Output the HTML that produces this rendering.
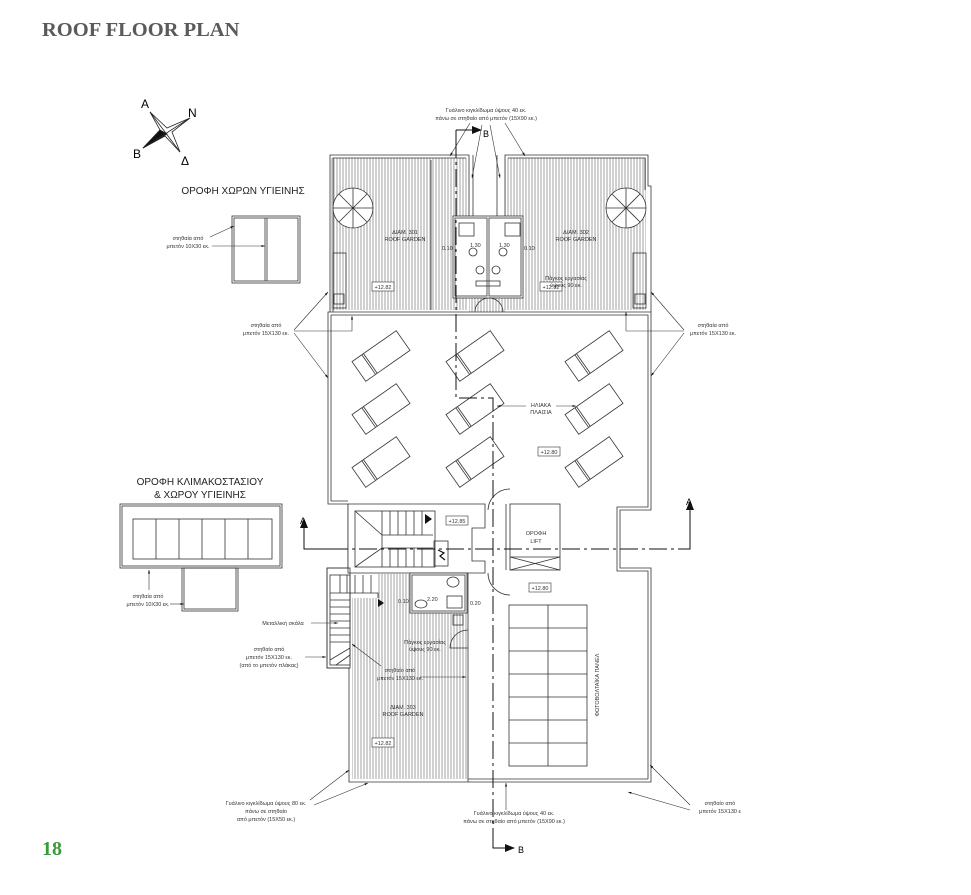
<!DOCTYPE html>
<html><head><meta charset="utf-8"><style>
html,body{margin:0;padding:0;background:#fff}
svg{display:block}
text{font-family:"Liberation Sans",sans-serif}
.s{font-size:5.5px;fill:#333}
.m{font-size:6.5px;fill:#333}
</style></head><body>
<svg width="971" height="895" viewBox="0 0 971 895" xmlns="http://www.w3.org/2000/svg">
<defs>
<pattern id="h" width="3" height="10" patternUnits="userSpaceOnUse"><line x1="1" y1="0" x2="1" y2="10" stroke="#888" stroke-width="0.8"/></pattern>
<marker id="ar" viewBox="0 0 10 10" refX="10" refY="5" markerWidth="6" markerHeight="6" orient="auto"><path d="M0,2 L10,5 L0,8z" fill="#111"/></marker>
<g id="bed"><rect x="-27" y="-12" width="54" height="24" fill="#fff" stroke="#333" stroke-width="0.8"/><line x1="-15" y1="-12" x2="-15" y2="12" stroke="#333" stroke-width="0.8"/><line x1="-13" y1="-12" x2="-13" y2="12" stroke="#333" stroke-width="0.8"/></g>
</defs>
<text x="42" y="36" style="font-family:'Liberation Serif',serif;font-weight:bold;font-size:20.5px;fill:#5a5a5a">ROOF FLOOR PLAN</text>
<text x="42" y="855" style="font-family:'Liberation Serif',serif;font-weight:bold;font-size:20px;fill:#3a9a3a">18</text>

<!-- compass -->
<g stroke="#222" stroke-width="0.8" fill="#fff">
<path d="M150,112 L167,128 L190,118 L172,132 L180,152 L165,136 L143,148 L160,130 Z"/>
<path d="M143,148 L160,130 L167,134 Z" fill="#111"/>
<line x1="150" y1="112" x2="180" y2="152"/><line x1="143" y1="148" x2="190" y2="118"/>
</g>
<text x="141" y="108" style="font-size:12px">A</text><text x="188" y="117" style="font-size:12px">N</text>
<text x="133" y="158" style="font-size:12px">B</text><text x="181" y="165" style="font-size:12px">Δ</text>

<!-- small WC roof -->
<text x="243" y="194" text-anchor="middle" style="font-size:10px;fill:#222">ΟΡΟΦΗ ΧΩΡΩΝ ΥΓΙΕΙΝΗΣ</text>
<g fill="none" stroke="#333" stroke-width="0.8">
<rect x="232" y="216" width="68" height="67"/><rect x="234" y="218" width="64" height="63"/>
<line x1="265" y1="218" x2="265" y2="281"/><line x1="267" y1="218" x2="267" y2="281"/>
</g>
<text x="188" y="240" text-anchor="middle" class="s">στηθαία από</text>
<text x="188" y="248" text-anchor="middle" class="s">μπετόν 10Χ30 εκ.</text>
<line x1="212" y1="246" x2="265" y2="246" stroke="#333" stroke-width="0.6" marker-end="url(#ar)"/>
<line x1="210" y1="237" x2="234" y2="226" stroke="#333" stroke-width="0.6" marker-end="url(#ar)"/>

<!-- stair roof -->
<text x="200" y="485" text-anchor="middle" style="font-size:10px;fill:#222">ΟΡΟΦΗ ΚΛΙΜΑΚΟΣΤΑΣΙΟΥ</text>
<text x="200" y="498" text-anchor="middle" style="font-size:10px;fill:#222">&amp; ΧΩΡΟΥ ΥΓΙΕΙΝΗΣ</text>
<g fill="none" stroke="#333" stroke-width="0.8">
<rect x="120" y="504" width="162" height="64"/><rect x="122" y="506" width="158" height="60"/>
<rect x="133" y="519" width="139" height="40"/>
<line x1="156" y1="519" x2="156" y2="559"/><line x1="179" y1="519" x2="179" y2="559"/><line x1="202" y1="519" x2="202" y2="559"/><line x1="225" y1="519" x2="225" y2="559"/><line x1="248" y1="519" x2="248" y2="559"/>
<rect x="182" y="568" width="56" height="43"/><rect x="184" y="568" width="52" height="41"/>
</g>
<text x="148" y="598" text-anchor="middle" class="s">στηθαία από</text>
<text x="148" y="606" text-anchor="middle" class="s">μπετόν 10Χ30 εκ.</text>
<line x1="149" y1="590" x2="149" y2="570" stroke="#333" stroke-width="0.6" marker-end="url(#ar)"/>
<line x1="170" y1="604" x2="184" y2="604" stroke="#333" stroke-width="0.6" marker-end="url(#ar)"/>

<!-- top gardens -->
<rect x="331" y="158" width="137" height="152" fill="url(#h)"/>
<rect x="505" y="158" width="141" height="152" fill="url(#h)"/>
<rect x="469" y="298" width="36" height="14" fill="url(#h)"/>
<g fill="none" stroke="#333" stroke-width="0.8">
<path d="M330,312 V155 H469 V216"/><path d="M333,312 V158 H466"/>
<path d="M505,216 V155 H648 V186 H651 V312"/><path d="M508,158 H645 V190"/>
<line x1="473" y1="155" x2="473" y2="216"/><line x1="497" y1="155" x2="497" y2="216"/>
<rect x="453" y="216" width="70" height="82" fill="#fff"/>
<rect x="455" y="218" width="32" height="78"/><rect x="489" y="218" width="32" height="78"/>
<rect x="459" y="223" width="15" height="13"/><rect x="505" y="223" width="15" height="13"/>
<circle cx="473" cy="252" r="4"/><circle cx="503" cy="252" r="4"/><circle cx="480" cy="270" r="4"/><circle cx="496" cy="270" r="4"/>
<rect x="476" y="281" width="24" height="5"/>
<path d="M475,312 A14,14 0 0 1 503,312"/>
<circle cx="353" cy="208" r="20" fill="#fff"/><circle cx="626" cy="208" r="20" fill="#fff"/>
<path d="M353,188 V228 M333,208 H373 M339,194 L367,222 M367,194 L339,222"/>
<path d="M626,188 V228 M606,208 H646 M612,194 L640,222 M640,194 L612,222"/>
<rect x="333" y="253" width="13" height="55"/><rect x="334" y="294" width="10" height="10"/>
<rect x="633" y="253" width="13" height="55"/><rect x="635" y="294" width="10" height="10"/>
<line x1="431" y1="160" x2="431" y2="310"/>
</g>
<text x="405" y="234" text-anchor="middle" class="s">ΔΙΑΜ. 301</text><text x="405" y="241" text-anchor="middle" class="s">ROOF GARDEN</text>
<text x="576" y="234" text-anchor="middle" class="s">ΔΙΑΜ. 302</text><text x="576" y="241" text-anchor="middle" class="s">ROOF GARDEN</text>
<rect x="372" y="282" width="22" height="9" fill="#fff" stroke="#333" stroke-width="0.6"/><text x="383" y="289" text-anchor="middle" class="s">+12.82</text>
<rect x="540" y="282" width="22" height="9" fill="#fff" stroke="#333" stroke-width="0.6"/><text x="551" y="289" text-anchor="middle" class="s">+12.82</text>
<text x="566" y="280" text-anchor="middle" class="s">Πάγκος εργασίας</text><text x="566" y="287" text-anchor="middle" class="s">ύψους 90 εκ.</text>
<text x="470" y="247" class="s">1.30</text><text x="499" y="247" class="s">1.30</text>
<text x="442" y="250" class="s">0.10</text><text x="524" y="250" class="s">0.10</text>
<text x="486" y="112" text-anchor="middle" class="s">Γυάλινο κιγκλίδωμα ύψους 40 εκ.</text>
<text x="486" y="120" text-anchor="middle" class="s">πάνω σε στηθαίο από μπετόν (15Χ90 εκ.)</text>
<g stroke="#333" stroke-width="0.6" marker-end="url(#ar)">
<line x1="470" y1="123" x2="450" y2="156"/><line x1="505" y1="123" x2="525" y2="156"/>
<line x1="482" y1="125" x2="472" y2="178"/><line x1="490" y1="125" x2="500" y2="178"/>
</g>

<!-- terrace -->
<g fill="none" stroke="#333" stroke-width="0.8">
<path d="M328,312 H651 V510 H620 V568 H651 V782 H349 V668 H327 V568 H348 V504 H328 Z"/>
<path d="M331,315 H648 V507 H617 V571 H648 V779"/>
<path d="M331,315 V501 H348"/>
</g>
<g>
<use href="#bed" transform="translate(381,356) rotate(-35)"/>
<use href="#bed" transform="translate(381,409) rotate(-35)"/>
<use href="#bed" transform="translate(381,462) rotate(-35)"/>
<use href="#bed" transform="translate(475,356) rotate(-35)"/>
<use href="#bed" transform="translate(475,409) rotate(-35)"/>
<use href="#bed" transform="translate(475,462) rotate(-35)"/>
<use href="#bed" transform="translate(594,356) rotate(-35)"/>
<use href="#bed" transform="translate(594,409) rotate(-35)"/>
<use href="#bed" transform="translate(594,462) rotate(-35)"/>
</g>
<text x="541" y="407" text-anchor="middle" class="s">ΗΛΙΑΚΑ</text><text x="541" y="414" text-anchor="middle" class="s">ΠΛΑΙΣΙΑ</text>
<line x1="526" y1="406" x2="497" y2="406" stroke="#333" stroke-width="0.6" marker-end="url(#ar)"/>
<line x1="556" y1="406" x2="576" y2="406" stroke="#333" stroke-width="0.6" marker-end="url(#ar)"/>
<rect x="538" y="447" width="22" height="9" fill="#fff" stroke="#333" stroke-width="0.6"/><text x="549" y="454" text-anchor="middle" class="s">+12.80</text>

<!-- side annotations -->
<text x="266" y="327" text-anchor="middle" class="s">στηθαία από</text><text x="266" y="335" text-anchor="middle" class="s">μπετόν 15Χ130 εκ.</text>
<g stroke="#333" stroke-width="0.6" fill="none"><line x1="294" y1="330" x2="328" y2="292" marker-end="url(#ar)"/><line x1="294" y1="333" x2="328" y2="378" marker-end="url(#ar)"/><path d="M294,331 H352 V316" marker-end="url(#ar)"/></g>
<text x="713" y="327" text-anchor="middle" class="s">στηθαία από</text><text x="713" y="335" text-anchor="middle" class="s">μπετόν 15Χ130 εκ.</text>
<g stroke="#333" stroke-width="0.6" fill="none"><line x1="684" y1="330" x2="651" y2="292" marker-end="url(#ar)"/><line x1="684" y1="333" x2="651" y2="376" marker-end="url(#ar)"/><path d="M684,331 H626 V312" marker-end="url(#ar)"/></g>

<!-- stair core -->
<g fill="none" stroke="#333" stroke-width="0.8">
<path d="M348,504 H485 V528 H472 V561 H485 V573 H348 Z" fill="#fff"/>
<rect x="355" y="511" width="80" height="56"/>
<path d="M355,511 L382,535 V548 L355,567"/>
<path d="M382,535 H433 M382,548 H433"/>
<path d="M382,511 V535 M390,511 V535 M398,511 V535 M406,511 V535 M414,511 V535 M422,511 V535 M382,548 V567 M390,548 V567 M398,548 V567 M406,548 V567 M414,548 V567 M422,548 V567"/>
<rect x="434" y="541" width="14" height="25"/>
<rect x="510" y="504" width="50" height="66"/><line x1="506" y1="504" x2="506" y2="570"/><line x1="510" y1="557" x2="560" y2="557"/>
<path d="M510,557 L560,570 M510,570 L560,557"/>
<path d="M510,489 A22,22 0 0 0 488,510"/><path d="M510,595 A22,22 0 0 1 488,573"/>
</g>
<path d="M425,514 L432,519 L425,524 Z" fill="#111"/>
<path d="M438,550 L444,553 L440,556 L445,560" stroke="#111" stroke-width="1.2" fill="none"/>
<rect x="446" y="516" width="22" height="9" fill="#fff" stroke="#333" stroke-width="0.6"/><text x="457" y="523" text-anchor="middle" class="s">+12.85</text>
<text x="536" y="535" text-anchor="middle" class="s">ΟΡΟΦΗ</text><text x="536" y="543" text-anchor="middle" class="s">LIFT</text>

<!-- lower garden -->
<rect x="352" y="598" width="116" height="181" fill="url(#h)"/>
<rect x="378" y="574" width="32" height="24" fill="url(#h)"/>
<g fill="none" stroke="#333" stroke-width="0.8">
<path d="M468,573 V782"/>
<rect x="410" y="573" width="57" height="40" fill="#fff"/><rect x="412" y="575" width="53" height="36"/>
<ellipse cx="453" cy="582" rx="6" ry="5"/><rect x="447" y="596" width="15" height="12"/><ellipse cx="421" cy="604" rx="6" ry="4"/>
<rect x="453" y="615" width="10" height="10"/>
<path d="M468,630 A18,18 0 0 0 450,648 H468"/>
<rect x="327" y="568" width="23" height="100"/><rect x="330" y="575" width="20" height="90"/>
<path d="M330,593 H378 V598 M330,600 H350 M330,607 H350 M330,614 H350 M330,621 H350 M330,628 H350 M330,635 H350 M330,642 H350 M340,575 V593 M347,575 V593 M355,575 V593 M363,575 V593 M371,575 V593"/>
<path d="M330,660 L350,648 M336,665 L350,655"/>
<rect x="509" y="605" width="78" height="161"/>
<path d="M548,605 V766 M509,628 H587 M509,651 H587 M509,674 H587 M509,697 H587 M509,720 H587 M509,743 H587"/>
<line x1="468" y1="779" x2="648" y2="779"/>
</g>
<path d="M378,599 L384,603 L378,607 Z" fill="#111"/>
<text x="427" y="601" class="s">2.20</text><text x="398" y="603" class="s">0.10</text><text x="470" y="605" class="s">0.20</text>
<text x="425" y="644" text-anchor="middle" class="s">Πάγκος εργασίας</text><text x="425" y="651" text-anchor="middle" class="s">ύψους 90 εκ.</text>
<text x="400" y="672" text-anchor="middle" class="s">στηθαίο από</text><text x="400" y="680" text-anchor="middle" class="s">μπετόν 15Χ130 εκ.</text>
<line x1="420" y1="677" x2="466" y2="677" stroke="#333" stroke-width="0.6" marker-end="url(#ar)"/>
<line x1="381" y1="666" x2="352" y2="644" stroke="#333" stroke-width="0.6" marker-end="url(#ar)"/>
<text x="403" y="709" text-anchor="middle" class="s">ΔΙΑΜ. 303</text><text x="403" y="716" text-anchor="middle" class="s">ROOF GARDEN</text>
<rect x="372" y="738" width="22" height="9" fill="#fff" stroke="#333" stroke-width="0.6"/><text x="383" y="745" text-anchor="middle" class="s">+12.82</text>
<rect x="529" y="583" width="22" height="9" fill="#fff" stroke="#333" stroke-width="0.6"/><text x="540" y="590" text-anchor="middle" class="s">+12.80</text>
<text transform="translate(599,685) rotate(-90)" text-anchor="middle" class="s">ΦΩΤΟΒΟΛΤΑΪΚΑ ΠΑΝΕΛ</text>

<text x="283" y="625" text-anchor="middle" class="s">Μεταλλική σκάλα</text>
<line x1="311" y1="623" x2="338" y2="623" stroke="#333" stroke-width="0.6" marker-end="url(#ar)"/>
<text x="269" y="651" text-anchor="middle" class="s">στηθαίο από</text><text x="269" y="659" text-anchor="middle" class="s">μπετόν 15Χ130 εκ.</text><text x="269" y="667" text-anchor="middle" class="s">(από το μπετόν πλάκας)</text>
<line x1="305" y1="657" x2="326" y2="657" stroke="#333" stroke-width="0.6" marker-end="url(#ar)"/>
<text x="266" y="805" text-anchor="middle" class="s">Γυάλινο κιγκλίδωμα ύψους 80 εκ.</text><text x="266" y="813" text-anchor="middle" class="s">πάνω σε στηθαίο</text><text x="266" y="821" text-anchor="middle" class="s">από μπετόν (15Χ50 εκ.)</text>
<line x1="310" y1="800" x2="349" y2="770" stroke="#333" stroke-width="0.6" marker-end="url(#ar)"/>
<line x1="314" y1="805" x2="368" y2="783" stroke="#333" stroke-width="0.6" marker-end="url(#ar)"/>
<text x="514" y="815" text-anchor="middle" class="s">Γυάλινο κιγκλίδωμα ύψους 40 εκ.</text><text x="514" y="823" text-anchor="middle" class="s">πάνω σε στηθαίο από μπετόν (15Χ90 εκ.)</text>
<line x1="506" y1="810" x2="506" y2="783" stroke="#333" stroke-width="0.6" marker-end="url(#ar)"/>
<text x="720" y="805" text-anchor="middle" class="s">στηθαίο από</text><text x="720" y="813" text-anchor="middle" class="s">μπετόν 15Χ130 ε</text>
<line x1="690" y1="805" x2="650" y2="765" stroke="#333" stroke-width="0.6" marker-end="url(#ar)"/>
<line x1="690" y1="810" x2="628" y2="792" stroke="#333" stroke-width="0.6" marker-end="url(#ar)"/>

<!-- section lines -->
<g stroke="#111" stroke-width="1" fill="none">
<path d="M304,524 V549 H330"/>
<path d="M330,549 H680" stroke-dasharray="18,4,3,4"/>
<path d="M680,549 H690 V506"/>
</g>
<path d="M304,518 L300,528 L308,528 Z" fill="#111"/><path d="M690,500 L686,510 L694,510 Z" fill="#111"/>
<text x="300" y="524" style="font-size:9px">A</text><text x="686" y="505" style="font-size:9px">A</text>
<g stroke="#111" stroke-width="1" fill="none" stroke-dasharray="18,4,3,4">
<path d="M456,140 V398 H493 V830"/>
</g>
<path d="M456,130 V140 M456,130 H472 M493,830 V848 H505" stroke="#111" stroke-width="1" fill="none"/>
<path d="M472,126 L482,130 L472,134 Z" fill="#111"/><path d="M505,844 L515,848 L505,852 Z" fill="#111"/>
<text x="483" y="137" style="font-size:9px">B</text><text x="518" y="853" style="font-size:9px">B</text>
</svg>
</body></html>
